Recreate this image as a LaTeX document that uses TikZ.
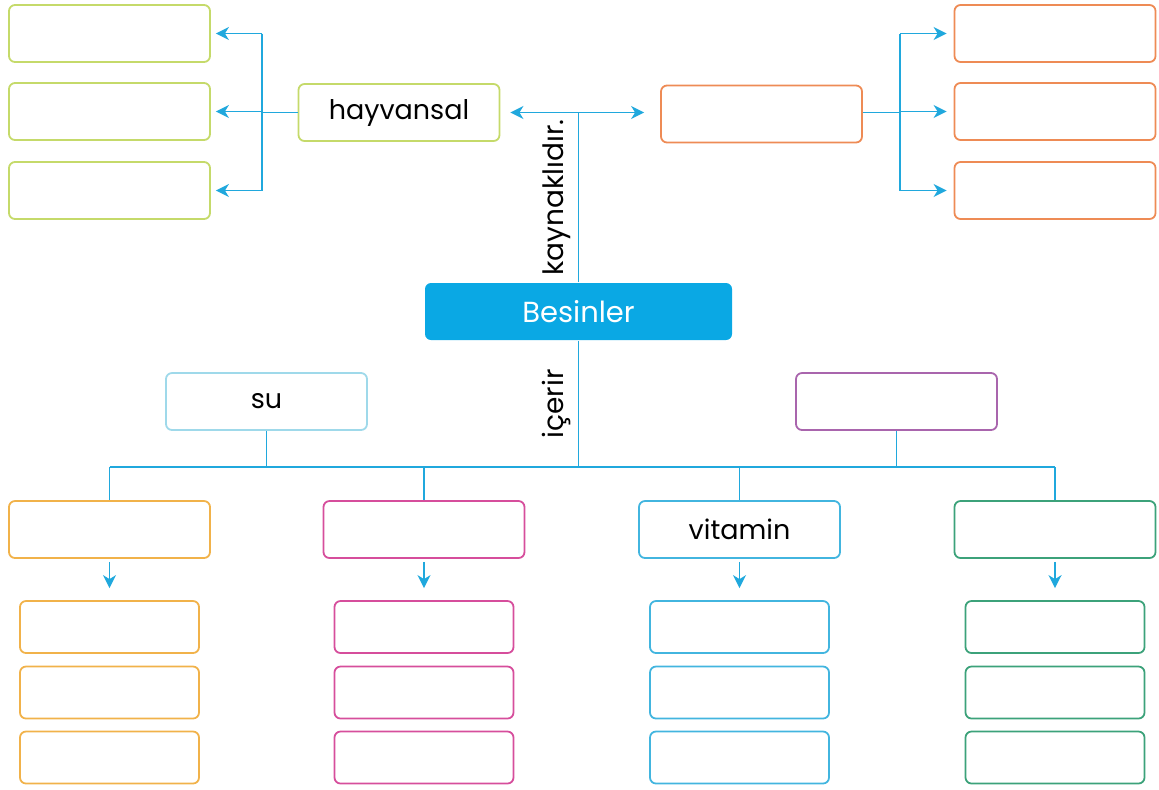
\documentclass[tikz,border=0pt]{standalone}
\usepackage{fontspec}
\setmainfont{Poppins}
\usetikzlibrary{arrows.meta}
\definecolor{lineblue}{HTML}{20A8DD}
\definecolor{besblue}{HTML}{0AA8E4}
\definecolor{lime}{HTML}{C5DA6A}
\definecolor{coral}{HTML}{EE8B55}
\definecolor{skyl}{HTML}{9FD9EA}
\definecolor{mor}{HTML}{A965AD}
\definecolor{orng}{HTML}{F1B24A}
\definecolor{pembe}{HTML}{D64E9C}
\definecolor{mavi}{HTML}{42B5DF}
\definecolor{yesil}{HTML}{3CA27A}

\begin{document}
\begin{tikzpicture}[x=0.5pt,y=-0.5pt,
    box/.style={draw,rounded corners=3pt,line width=0.9pt,minimum width=100.5pt,
      minimum height=28.5pt,inner sep=0pt,font=\fontsize{13.5}{16}\selectfont},
    small/.style={box,minimum width=89.5pt,minimum height=26pt},
    link/.style={lineblue,line width=0.9pt},
    arr/.style={link,-{Stealth[length=6.5pt,width=6.5pt,inset=2pt]}},
    lbl/.style={midway,rotate=90,anchor=south,text=black,font=\fontsize{14}{16}\selectfont}]
  \useasboundingbox (0,0) rectangle (1159,789);
  % hayvansal side
  \node[box,draw=lime] (l1) at (109.5,33.5) {};
  \node[box,draw=lime] (l2) at (109.5,111.5) {};
  \node[box,draw=lime] (l3) at (109.5,190.5) {};
  \node[box,draw=lime] (hay) at (399,112.5) {hayvansal};
  % the other source
  \node[box,draw=coral] (ora) at (761.5,114) {};
  \node[box,draw=coral] (r1) at (1055,33.5) {};
  \node[box,draw=coral] (r2) at (1055,111.5) {};
  \node[box,draw=coral] (r3) at (1055,190.5) {};
  % centre
  \node[box,draw=none,fill=besblue,text=white,minimum width=153.5pt,
    font=\fontsize{14.5}{16}\selectfont] (bes) at (578.5,311.5) {Besinler};
  \node[box,draw=skyl] (su) at (266.5,401.5) {su};
  \node[box,draw=mor] (mr) at (896.5,401.5) {};
  \node[box,draw=orng] (b1) at (109.5,529.5) {};
  \node[box,draw=pembe] (b2) at (424,529.5) {};
  \node[box,draw=mavi] (b3) at (739.5,529.5) {vitamin};
  \node[box,draw=yesil] (b4) at (1055,529.5) {};
  \foreach \x/\c/\n in {109.5/orng/1,424/pembe/2,739.5/mavi/3,1055/yesil/4}{
    \foreach \y/\m in {627/1,692.5/2,757.5/3}
      \node[small,draw=\c] (c\n\m) at (\x,\y) {};
    \draw[arr,shorten <=1.5pt,shorten >=6pt] (b\n.south) -- (c\n1.north);
  }

  \coordinate (jl) at (262,112.5);
  \coordinate (jr) at (900,112.5);
  \coordinate (bus) at (578,467);
  \draw[link] (hay.west) -- (jl);
  \draw[link] (jl |- l1.east) -- (jl |- l3.east);
  \foreach \i in {1,2,3}
    \draw[arr,shorten >=2.5pt] (jl |- l\i.east) -- (l\i.east);
  \draw[link] (ora.east |- jr) -- (jr);
  \draw[link] (jr |- r1.west) -- (jr |- r3.west);
  \foreach \i in {1,2,3}
    \draw[arr,shorten >=3.5pt] (jr |- r\i.west) -- (r\i.west);
  \draw[link,{Stealth[length=6.5pt,width=6.5pt,inset=2pt]}-{Stealth[length=6.5pt,width=6.5pt,inset=2pt]},
    shorten <=5pt,shorten >=8pt] (hay.east) -- (hay.east -| ora.west);
  \draw[link] (bes.north) -- (bes.north |- hay.east) node[lbl]{kaynaklıdır.};
  \draw[link] (bes.south) -- (bes.south |- bus) node[lbl]{içerir};
  \draw[link] (b1.north |- bus) -- (b4.north |- bus);
  \draw[link] (su.south) -- (su.south |- bus);
  \draw[link] (mr.south) -- (mr.south |- bus);
  \foreach \n in {1,...,4}
    \draw[link] (b\n.north |- bus) -- (b\n.north);
\end{tikzpicture}
\end{document}
